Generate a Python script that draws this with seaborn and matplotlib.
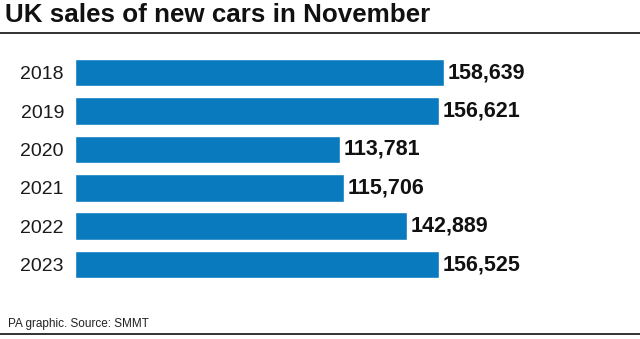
import matplotlib
matplotlib.use("Agg")
import matplotlib.pyplot as plt
import seaborn as sns
import pandas as pd
from matplotlib.lines import Line2D

years = ["2018", "2019", "2020", "2021", "2022", "2023"]
sales = [158639, 156621, 113781, 115706, 142889, 156525]
title = "UK sales of new cars in November"
source = "PA graphic. Source: SMMT"

sns.set_theme(style="white")
plt.rcParams["font.family"] = ["Liberation Sans", "DejaVu Sans"]

W, H = 640, 339
fig = plt.figure(figsize=(W / 100, H / 100), dpi=100)
# axes in pixel coordinates: left 75, right 640, top 40, bottom 300
ax = fig.add_axes([75 / W, 1 - 300 / H, (640 - 75) / W, (300 - 40) / H])

df = pd.DataFrame({"year": years, "sales": sales})
sns.barplot(data=df, x="sales", y="year", orient="h", color="#0a7abf",
            saturation=1, width=0.72, ax=ax)

ax.set_xlim(0, 242900)
ax.set_ylim(5.925, -0.852)
ax.set_xlabel("")
ax.set_ylabel("")
ax.set_xticks([])
ax.tick_params(axis="y", length=0, pad=8, labelsize=14, labelcolor="#1a1a1a")
for s in ax.spines.values():
    s.set_visible(False)

ax.bar_label(ax.containers[0], labels=[f"{v:,}" for v in sales], padding=2.5,
             fontsize=15.5, fontweight="bold", color="#111111")

fig.text(5 / W, 1 - 3 / H, title, ha="left", va="top", fontsize=18.7,
         fontweight="bold", color="#111111")
fig.add_artist(Line2D([0, 1], [1 - 33 / H, 1 - 33 / H], transform=fig.transFigure,
                      color="#222222", lw=1.3))
fig.text(8 / W, 1 - 327.5 / H, source, ha="left", va="baseline", fontsize=8.5,
         color="#222222")
fig.add_artist(Line2D([0, 1], [1 - 334 / H, 1 - 334 / H], transform=fig.transFigure,
                      color="#222222", lw=1.3))

fig.savefig("out.png", dpi=100)
